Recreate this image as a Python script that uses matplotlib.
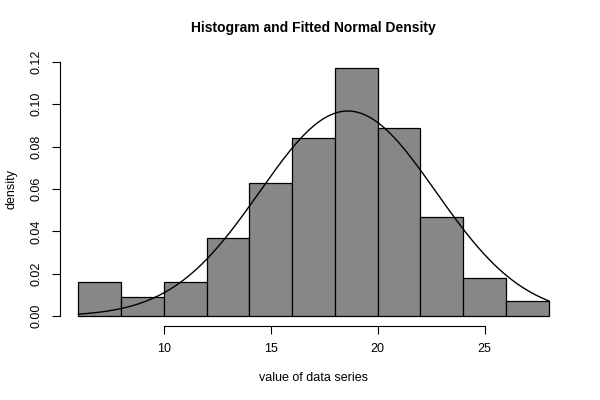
import numpy as np
import matplotlib
matplotlib.use("Agg")
import matplotlib.pyplot as plt

# histogram bins and densities
bin_edges = [6, 8, 10, 12, 14, 16, 18, 20, 22, 24, 26, 28]
densities = [0.016, 0.009, 0.016, 0.037, 0.063, 0.084, 0.117, 0.089, 0.047, 0.018, 0.007]

# fitted normal parameters
fit_mean = 18.6
fit_sd = 4.12

x_ticks = [10, 15, 20, 25]
y_ticks = [0.00, 0.02, 0.04, 0.06, 0.08, 0.10, 0.12]

plt.rcParams['font.family'] = ['Liberation Sans', 'DejaVu Sans']

fig = plt.figure(figsize=(6, 4), dpi=100)
ax = fig.add_axes([0.0993, 0.1845, 0.8467, 0.686])

lefts = np.array(bin_edges[:-1])
widths = np.diff(bin_edges)
ax.bar(lefts, densities, width=widths, align='edge', color='#878787',
       edgecolor='black', linewidth=0.9)

xs = np.linspace(bin_edges[0], bin_edges[-1], 300)
ys = np.exp(-0.5 * ((xs - fit_mean) / fit_sd) ** 2) / (fit_sd * np.sqrt(2 * np.pi))
ax.plot(xs, ys, color='black', linewidth=1)

span = bin_edges[-1] - bin_edges[0]
ax.set_xlim(bin_edges[0] - 0.04 * span, bin_edges[-1] + 0.04 * span)
ax.set_ylim(-0.04 * 0.12, 0.12 * 1.04)

for s in ['top', 'right']:
    ax.spines[s].set_visible(False)
ax.spines['bottom'].set_bounds(x_ticks[0], x_ticks[-1])
ax.spines['left'].set_bounds(y_ticks[0], y_ticks[-1])
ax.spines['bottom'].set_linewidth(0.8)
ax.spines['left'].set_linewidth(0.8)

ax.set_xticks(x_ticks)
ax.set_yticks(y_ticks)
ax.set_yticklabels([f"{v:.2f}" for v in y_ticks], rotation=90, va='center')
ax.tick_params(direction='out', length=6, width=0.8, labelsize=9, pad=6)

ax.set_xlabel('value of data series', fontsize=9, labelpad=12)
ax.set_ylabel('density', fontsize=9, labelpad=10)
ax.set_title('Histogram and Fitted Normal Density', fontsize=10,
             fontweight='bold', pad=14)

fig.savefig('out.png', dpi=100)
